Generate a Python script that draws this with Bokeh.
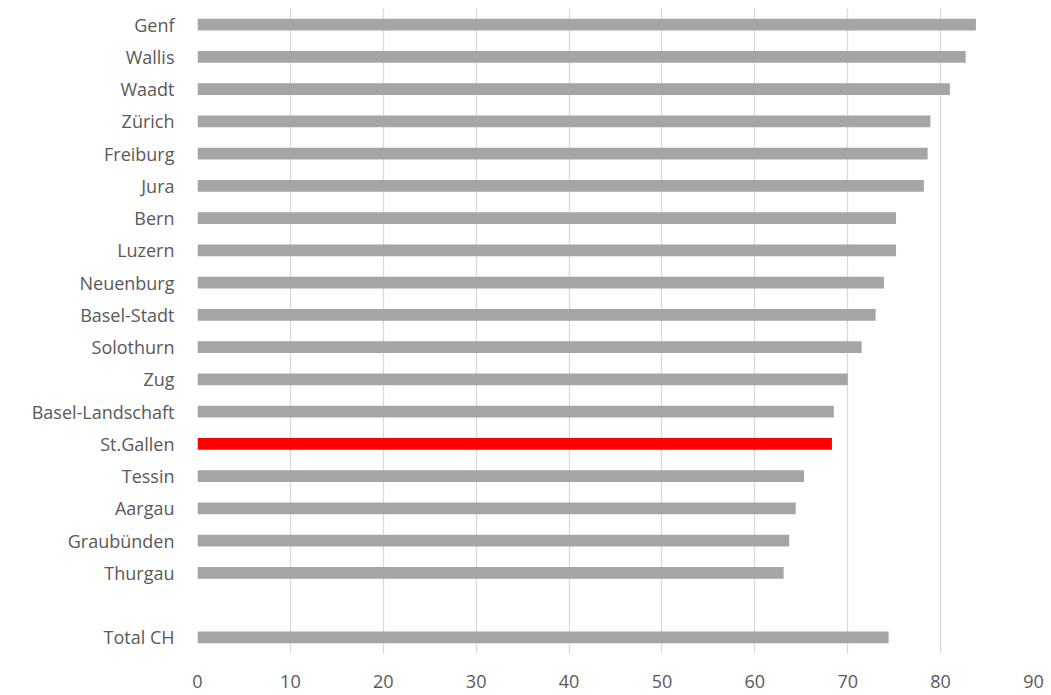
from bokeh.plotting import figure
from bokeh.models import FactorRange, Range1d, FixedTicker, ColumnDataSource
from bokeh.embed import file_html
from bokeh.resources import INLINE

# Data (top to bottom as shown)
cantons = ["Genf", "Wallis", "Waadt", "Zürich", "Freiburg", "Jura", "Bern", "Luzern",
           "Neuenburg", "Basel-Stadt", "Solothurn", "Zug", "Basel-Landschaft", "St.Gallen",
           "Tessin", "Aargau", "Graubünden", "Thurgau", " ", "Total CH"]
values = [83.8, 82.7, 81.0, 78.9, 78.6, 78.2, 75.2, 75.2,
          73.9, 73.0, 71.5, 70.0, 68.5, 68.3,
          65.3, 64.4, 63.7, 63.1, None, 74.4]
highlight = "St.Gallen"
x_ticks = [0, 10, 20, 30, 40, 50, 60, 70, 80, 90]

cats, vals, cols = [], [], []
for c, v in zip(cantons, values):
    if v is None:
        continue
    cats.append(c)
    vals.append(v)
    cols.append("#ff0000" if c == highlight else "#a5a5a5")

src = ColumnDataSource(dict(cat=cats, val=vals, col=cols))

factors = list(reversed(cantons))
p = figure(width=1048, height=695, output_backend="svg", toolbar_location=None,
           y_range=FactorRange(*factors), x_range=Range1d(0, 90),
           min_border_left=197, min_border_right=15, min_border_top=8, min_border_bottom=42)

p.hbar(y="cat", right="val", left=0, height=0.36, color="col", line_color=None, source=src)

p.outline_line_color = None
p.ygrid.grid_line_color = None
p.xgrid.grid_line_color = "#d9d9d9"
p.xgrid.grid_line_width = 1.3
p.xaxis.ticker = FixedTicker(ticks=x_ticks)
p.xaxis.minor_tick_line_color = None
p.xaxis.major_tick_line_color = None
p.xaxis.axis_line_color = None
p.yaxis.axis_line_color = None
p.yaxis.major_tick_line_color = None
p.yaxis.minor_tick_line_color = None

for ax in (p.xaxis, p.yaxis):
    ax.major_label_text_font = "Open Sans"
    ax.major_label_text_font_size = "18px"
    ax.major_label_text_color = "#595959"

p.xaxis.major_label_standoff = 15
p.yaxis.major_label_standoff = 17

open("out.html", "w").write(file_html(p, INLINE))
